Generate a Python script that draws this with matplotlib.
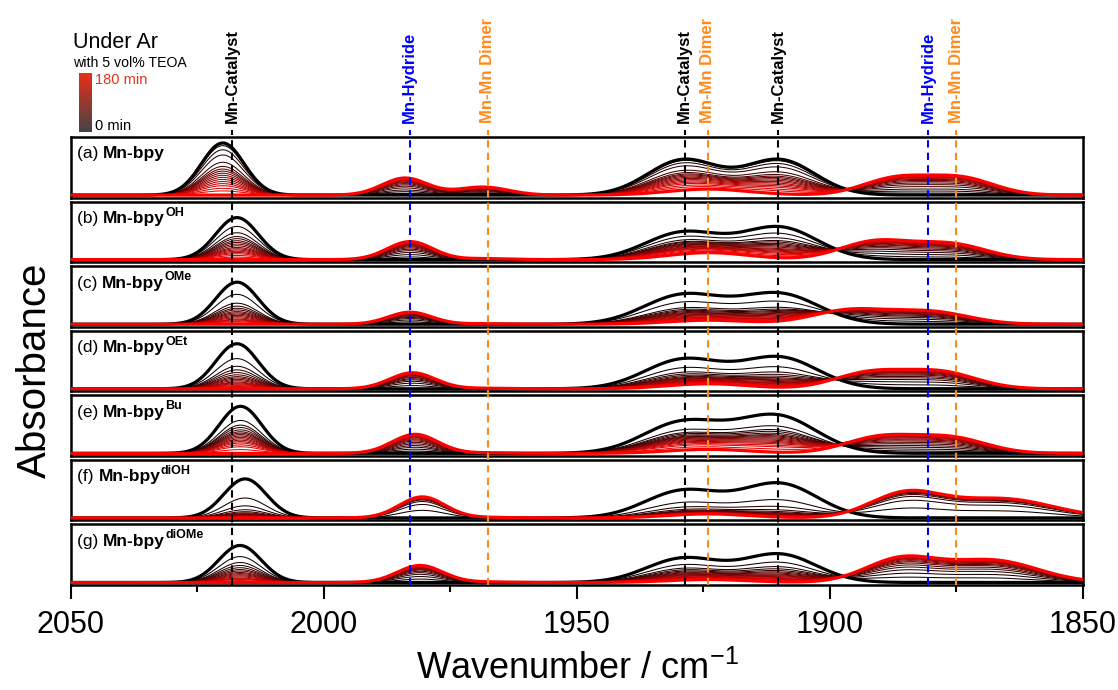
import numpy as np
import matplotlib.pyplot as plt
import matplotlib.transforms as mtransforms
from matplotlib import font_manager
from matplotlib.colors import LinearSegmentedColormap
from matplotlib.lines import Line2D


def pick_font(names):
    for n in names:
        try:
            font_manager.findfont(n, fallback_to_default=False)
            return n
        except ValueError:
            pass
    return 'DejaVu Sans'


sans = pick_font(['Liberation Sans', 'Arial', 'DejaVu Sans'])
narrow = pick_font(['Liberation Sans Narrow', 'Arial Narrow', sans])
plt.rcParams['font.family'] = sans
plt.rcParams['mathtext.fontset'] = 'custom'
plt.rcParams['mathtext.rm'] = narrow
plt.rcParams['mathtext.it'] = narrow

# panels
panel_letters = ['a', 'b', 'c', 'd', 'e', 'f', 'g']
panel_sups = ['', 'OH', 'OMe', 'OEt', 'Bu', 'diOH', 'diOMe']

# reference band markers (cm-1)
marker_pos = [2018.2, 1983.1, 1967.6, 1928.7, 1924.2, 1910.2, 1880.6, 1875.0]
marker_text = ['Mn-Catalyst', 'Mn-Hydride', 'Mn-Mn Dimer', 'Mn-Catalyst', 'Mn-Mn Dimer',
               'Mn-Catalyst', 'Mn-Hydride', 'Mn-Mn Dimer']
marker_color = ['black', '#0000ff', '#ff8a1c', 'black', '#ff8a1c', 'black', '#0000ff', '#ff8a1c']

# catalyst bands at t = 0: centre (cm-1), height (arb.), width (cm-1)
cat_pos = [[2020.0, 1929.0, 1910.0], [2017.2, 1929.0, 1910.0], [2017.2, 1929.0, 1910.0],
           [2017.2, 1929.0, 1910.0], [2016.5, 1929.0, 1910.5], [2015.6, 1929.0, 1910.0],
           [2016.6, 1929.0, 1910.0]]
cat_amp = [[52, 35, 35], [42, 27, 32], [42, 29, 30], [45, 29, 31], [47, 31, 37],
           [39, 27, 34], [37, 24, 28]]
cat_sig = [[4.2, 7.0, 7.0], [4.2, 7.5, 7.5], [4.2, 7.8, 7.8], [4.2, 7.6, 7.6],
           [4.2, 7.8, 7.8], [4.2, 7.5, 7.5], [4.2, 7.3, 7.3]]

# product bands at t = 180 min: hydride, dimer, dimer, broad pair
prod_pos = [[1984.0, 1968.6, 1924.0, 1887.0, 1874.0], [1983.0, 1968.0, 1924.0, 1891.0, 1876.0],
            [1983.0, 1968.0, 1924.0, 1896.0, 1880.0], [1982.5, 1968.0, 1924.0, 1892.0, 1878.0],
            [1982.0, 1968.0, 1924.0, 1890.0, 1876.0], [1980.6, 1968.0, 1924.0, 1885.0, 1866.0],
            [1981.0, 1968.0, 1924.0, 1886.0, 1868.0]]
prod_amp = [[17, 8, 6, 16.5, 16.5], [18, 1, 7, 18, 15], [12, 0.5, 4, 14, 12],
            [16, 0.5, 5, 16, 16], [19, 0.5, 4, 16, 15], [21, 0.5, 4, 24, 19],
            [17, 0.5, 3, 23, 22]]
prod_sig = [[4.5, 5.0, 8.0, 6.5, 6.5], [4.5, 5.0, 8.0, 7.0, 7.0], [4.3, 5.0, 8.0, 7.5, 7.5],
            [4.5, 5.0, 8.0, 7.0, 7.0], [4.5, 5.0, 8.0, 7.0, 7.0], [4.5, 5.0, 8.0, 7.0, 10.0],
            [4.5, 5.0, 8.0, 7.0, 9.0]]

# remaining catalyst fraction for each spectrum (0 -> 180 min)
decay = [
    [1.0, 0.95, 0.87, 0.77, 0.63, 0.55, 0.5, 0.46, 0.42, 0.38, 0.34, 0.3, 0.26, 0.22, 0.18, 0.13, 0.08, 0.0],
    [1.0, 0.79, 0.64, 0.55, 0.5, 0.45, 0.41, 0.37, 0.33, 0.29, 0.26, 0.23, 0.2, 0.17, 0.14, 0.1, 0.06, 0.0],
    [1.0, 0.71, 0.5, 0.43, 0.38, 0.34, 0.3, 0.27, 0.24, 0.21, 0.18, 0.15, 0.12, 0.1, 0.08, 0.06, 0.03, 0.0],
    [1.0, 0.67, 0.5, 0.42, 0.36, 0.31, 0.27, 0.24, 0.21, 0.18, 0.15, 0.13, 0.11, 0.09, 0.07, 0.05, 0.03, 0.0],
    [1.0, 0.7, 0.6, 0.55, 0.5, 0.46, 0.43, 0.4, 0.37, 0.34, 0.31, 0.28, 0.25, 0.22, 0.18, 0.14, 0.08, 0.0],
    [1.0, 0.51, 0.31, 0.21, 0.16, 0.13, 0.11, 0.09, 0.08, 0.07, 0.06, 0.05, 0.04, 0.03, 0.02, 0.02, 0.01, 0.0],
    [1.0, 0.7, 0.54, 0.46, 0.4, 0.35, 0.31, 0.27, 0.24, 0.21, 0.18, 0.15, 0.12, 0.1, 0.08, 0.05, 0.03, 0.0],
]
# product fraction for each spectrum
growth = [
    [0.0, 0.1, 0.2, 0.3, 0.42, 0.52, 0.6, 0.67, 0.73, 0.78, 0.82, 0.86, 0.89, 0.92, 0.94, 0.96, 0.98, 1.0],
    [0.0, 0.15, 0.28, 0.4, 0.5, 0.58, 0.65, 0.71, 0.76, 0.8, 0.84, 0.87, 0.9, 0.93, 0.95, 0.97, 0.99, 1.0],
    [0.0, 0.2, 0.35, 0.47, 0.56, 0.63, 0.7, 0.75, 0.8, 0.84, 0.87, 0.9, 0.92, 0.94, 0.96, 0.98, 0.99, 1.0],
    [0.0, 0.2, 0.35, 0.47, 0.56, 0.63, 0.7, 0.75, 0.8, 0.84, 0.87, 0.9, 0.92, 0.94, 0.96, 0.98, 0.99, 1.0],
    [0.0, 0.12, 0.22, 0.32, 0.41, 0.5, 0.58, 0.65, 0.71, 0.76, 0.81, 0.85, 0.88, 0.91, 0.94, 0.96, 0.98, 1.0],
    [0.0, 0.36, 0.64, 0.78, 0.85, 0.89, 0.92, 0.94, 0.95, 0.96, 0.97, 0.98, 0.98, 0.99, 0.99, 1.0, 1.0, 1.0],
    [0.0, 0.2, 0.35, 0.48, 0.58, 0.66, 0.73, 0.78, 0.82, 0.86, 0.89, 0.91, 0.93, 0.95, 0.97, 0.98, 0.99, 1.0],
]

wn = np.linspace(1850, 2050, 1001)


def bands(pos, amp, sig):
    out = np.zeros_like(wn)
    for p, a, s in zip(pos, amp, sig):
        out += a * np.exp(-0.5 * ((wn - p) / s) ** 2)
    return out


cmap = LinearSegmentedColormap.from_list('ar', ['#000000', '#ff0000'])
cmap_bar = LinearSegmentedColormap.from_list('bar', ['#444444', '#e8301a'])

fig = plt.figure(figsize=(11.18, 6.9), dpi=100)
W, H = 1118, 690
left, right = 71, 1083
top, bottom = 137, 585
gap = 4
ph = (bottom - top - 6 * gap) / 7

axes = []
for i in range(7):
    y0 = top + i * (ph + gap)
    ax = fig.add_axes([left / W, 1 - (y0 + ph) / H, (right - left) / W, ph / H])
    axes.append(ax)

    cat = bands(cat_pos[i], cat_amp[i], cat_sig[i])
    prod = bands(prod_pos[i], prod_amp[i], prod_sig[i])
    n = len(decay[i])
    for k in range(1, n - 1):
        y = decay[i][k] * cat + growth[i][k] * prod
        ax.plot(wn, y, color=cmap(k / (n - 1)), lw=0.75, zorder=2)
    ax.plot(wn, decay[i][0] * cat + growth[i][0] * prod, color='black', lw=2.3, zorder=3)
    ax.plot(wn, decay[i][-1] * cat + growth[i][-1] * prod, color='#ff0000', lw=2.3, zorder=4)

    ax.set_xlim(2050, 1850)
    ax.set_ylim(-2.5, 58)
    for sp in ax.spines.values():
        sp.set_linewidth(1.8)
    ax.set_yticks([])
    if i < 6:
        ax.set_xticks([])
    else:
        ax.set_xticks([2050, 2000, 1950, 1900, 1850])
        ax.set_xticks([2025, 1975, 1925, 1875], minor=True)
        ax.tick_params(axis='x', which='major', length=10, width=1.5, pad=8,
                       labelsize=22, labelfontfamily=narrow)
        ax.tick_params(axis='x', which='minor', length=5, width=1.5)
        ax.set_xlabel('Wavenumber / cm$^{-1}$', fontsize=26, family=narrow, labelpad=8)

    t1 = ax.text(0.006, 0.72, f'({panel_letters[i]}) ', transform=ax.transAxes,
                 fontsize=12.5, va='center', ha='left')
    t2 = ax.annotate('Mn-bpy', xy=(1, 0), xycoords=t1, va='bottom', ha='left',
                     fontsize=12.5, fontweight='bold')
    if panel_sups[i]:
        ax.annotate(panel_sups[i], xy=(1, 0.5), xycoords=t2, va='bottom', ha='left',
                    fontsize=9, fontweight='bold')

# dashed marker lines spanning all panels
trans = mtransforms.blended_transform_factory(axes[-1].transData, fig.transFigure)
for p, t, c in zip(marker_pos, marker_text, marker_color):
    fig.add_artist(Line2D([p, p], [1 - bottom / H, 1 - 130 / H], transform=trans, color=c,
                          lw=1.5, linestyle=(0, (3.5, 2.5)), zorder=10))
    fig.text(p, 1 - 123 / H, t, transform=trans, rotation=90, ha='center', va='bottom',
             fontsize=12, fontweight='bold', color=c)

fig.text(35 / W, 1 - 370 / H, 'Absorbance', rotation=90, ha='center', va='center', fontsize=29)

# time legend
fig.text(73 / W, 1 - 42 / H, 'Under Ar', fontsize=15.5, va='center', ha='left')
fig.text(73 / W, 1 - 63 / H, 'with 5 vol% TEOA', fontsize=10.2, va='center', ha='left')
cax = fig.add_axes([79 / W, 1 - 132 / H, 13 / W, 59 / H])
cax.imshow(np.linspace(0, 1, 100).reshape(-1, 1), cmap=cmap_bar, origin='lower', aspect='auto')
cax.axis('off')
fig.text(95 / W, 1 - 80 / H, '180 min', fontsize=10.5, color='#e5341a', va='center', ha='left')
fig.text(95 / W, 1 - 126 / H, '0 min', fontsize=10.5, va='center', ha='left')

fig.savefig('out.png', dpi=100)
